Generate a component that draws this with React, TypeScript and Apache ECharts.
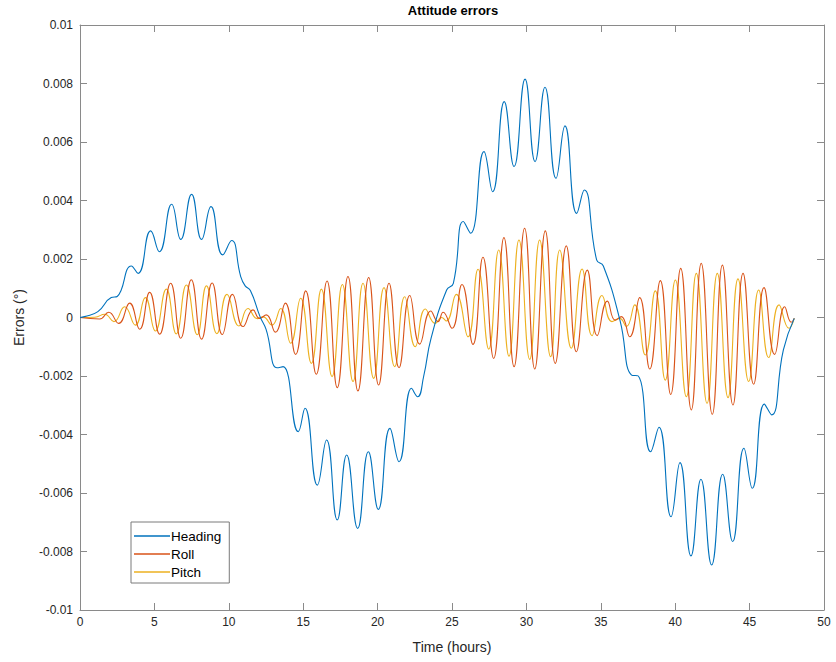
import React, { useEffect, useRef } from "react";
import * as echarts from "echarts";

const seriesNames = ["Heading", "Roll", "Pitch"];
const seriesColors = ["#0072BD", "#D95319", "#EDB120"];

const heading: [number, number][] = [
  [0, 0], [0.3, 0.00003], [1.2, 0.0002], [2.1, 0.00068], [2.5, 0.00072], [3.45, 0.00176], [3.9, 0.00151],
  [4.75, 0.00296], [5.33, 0.00225], [6.16, 0.00387], [6.77, 0.00267], [7.5, 0.00421], [8.17, 0.00267],
  [8.8, 0.00379], [9.59, 0.00214], [10.19, 0.00263], [10.8, 0.0014], [11.1, 0.00108], [11.45, 0.00092],
  [12.1, 0.00003], [12.5, -0.0004], [13.25, -0.00172], [13.65, -0.00168], [14.67, -0.0039], [15.12, -0.0031],
  [15.95, -0.00573], [16.57, -0.00419], [17.29, -0.00692], [17.92, -0.0047], [18.66, -0.00721], [19.38, -0.00459],
  [20.05, -0.00656], [20.83, -0.00379], [21.44, -0.00493], [22.28, -0.00242], [22.69, -0.00271], [23.1, -0.002],
  [23.6, -0.0007], [24.64, 0.00094], [25.09, 0.00117], [25.76, 0.00328], [26.25, 0.00288], [27.15, 0.00567],
  [27.73, 0.0043], [28.51, 0.00738], [29.17, 0.00516], [29.91, 0.00815], [30.58, 0.00533], [31.25, 0.00787],
  [31.99, 0.00476], [32.59, 0.00655], [33.38, 0.00356], [33.89, 0.00436], [34.72, 0.00197], [35.17, 0.00176],
  [36.29, -0.0001], [37.07, -0.00197], [37.52, -0.002], [38.35, -0.00459], [38.91, -0.00375], [39.72, -0.00681],
  [40.32, -0.00496], [41.06, -0.00815], [41.73, -0.00553], [42.45, -0.00846], [43.19, -0.00536], [43.86, -0.00766],
  [44.62, -0.00447], [45.18, -0.00584], [45.99, -0.00296], [46.48, -0.00333], [47.27, -0.00111], [48, -0.00003],
];

const roll: [number, number][] = [
  [0, 0], [1.32, -0.00005], [1.93, 0.00018], [2.6, -0.0002], [3.34, 0.00049], [4.01, -0.0004], [4.68, 0.00086],
  [5.35, -0.00057], [6.09, 0.00117], [6.77, -0.00071], [7.48, 0.00129], [8.17, -0.00074], [8.88, 0.00118],
  [9.56, -0.00058], [10.25, 0.00079], [10.96, -0.00031], [11.63, 0.00026], [12.07, -0.00003], [12.52, 0.00009],
  [13.13, -0.0005], [13.8, 0.00049], [14.49, -0.00126], [15.17, 0.00091], [15.88, -0.00194], [16.6, 0.00125],
  [17.29, -0.0024], [18.01, 0.0014], [18.68, -0.00251], [19.4, 0.00137], [20.07, -0.00231], [20.77, 0.00117],
  [21.44, -0.00172], [22.16, 0.00075], [22.83, -0.00091], [23.57, 0.00022], [24.06, -0.00014], [24.4, 0.00018],
  [25.0, -0.00037], [25.67, 0.00113], [26.41, -0.00092], [27.08, 0.00206], [27.8, -0.0014], [28.49, 0.00273],
  [29.17, -0.00168], [29.88, 0.00305], [30.56, -0.00176], [31.27, 0.00296], [31.94, -0.00157], [32.68, 0.00245],
  [33.36, -0.00117], [34.09, 0.00162], [34.76, -0.00062], [35.44, 0.00056], [35.97, -0.00009], [36.38, 0.00003],
  [36.94, -0.00066], [37.61, 0.00068], [38.29, -0.00176], [39.0, 0.00126], [39.7, -0.00263], [40.37, 0.00168],
  [41.08, -0.00316], [41.75, 0.00185], [42.49, -0.00331], [43.17, 0.00179], [43.88, -0.00299], [44.56, 0.00151],
  [45.27, -0.00228], [45.97, 0.00102], [46.68, -0.00126], [47.36, 0.00037], [47.8, -0.00016], [48, -0.00003],
];

const pitch: [number, number][] = [
  [0, 0], [1.0, 0.00001], [1.66, 0.00011], [2.28, -0.00014], [3.0, 0.00037], [3.72, -0.00026], [4.39, 0.00068],
  [5.06, -0.00046], [5.8, 0.00097], [6.47, -0.00056], [7.15, 0.00111], [7.88, -0.00059], [8.5, 0.00108],
  [9.2, -0.00055], [9.88, 0.00079], [10.68, -0.00029], [11.29, 0.00031], [11.92, -0.00004], [12.3, 0.00002],
  [12.9, -0.00026], [13.49, 0.00031], [14.16, -0.00088], [14.83, 0.00066], [15.55, -0.00157], [16.22, 0.00097],
  [16.94, -0.00202], [17.63, 0.00113], [18.35, -0.00219], [19.02, 0.00117], [19.74, -0.00208], [20.43, 0.00102],
  [21.15, -0.00168], [21.82, 0.00071], [22.53, -0.001], [23.21, 0.00029], [23.88, -0.0002], [24.3, 0.0],
  [24.62, -0.00012], [25.29, 0.00079], [26.08, -0.00066], [26.75, 0.00165], [27.47, -0.00108], [28.14, 0.00231],
  [28.83, -0.00132], [29.5, 0.00265], [30.22, -0.00143], [30.89, 0.00265], [31.63, -0.00134], [32.24, 0.00231],
  [33.02, -0.00105], [33.74, 0.00166], [34.41, -0.00062], [35.08, 0.00075], [35.75, -0.00014], [36.27, -0.00003],
  [36.72, -0.00031], [37.28, 0.00043], [37.99, -0.00128], [38.66, 0.00091], [39.33, -0.00214], [40.01, 0.00128],
  [40.75, -0.00271], [41.42, 0.00151], [42.14, -0.00293], [42.83, 0.00151], [43.55, -0.00274], [44.22, 0.00132],
  [44.94, -0.00219], [45.61, 0.00094], [46.28, -0.00137], [46.98, 0.00043], [47.65, -0.00037], [48, -0.00003],
];

const xRange = { min: 0, max: 50, interval: 5 };
const yRange = { min: -0.01, max: 0.01, interval: 0.002 };

const FONT = "'Liberation Sans', Arial, Helvetica, sans-serif";
const AXIS_COLOR = "#8a8a8a";
const TEXT_COLOR = "#262626";

export default function App() {
  const ref = useRef<HTMLDivElement>(null);
  useEffect(() => {
    if (!ref.current) return;
    const chart = echarts.init(ref.current, undefined, { renderer: "svg" });
    const axisLine = { show: true, onZero: false, lineStyle: { color: AXIS_COLOR, width: 1 } };
    const axisTick = { show: true, inside: true, length: 7, lineStyle: { color: AXIS_COLOR } };
    const fmtY = (v: number) => String(parseFloat(v.toFixed(4)));
    const data = [heading, roll, pitch];
    chart.setOption({
      animation: false,
      backgroundColor: "#ffffff",
      textStyle: { fontFamily: FONT },
      graphic: [
        {
          type: "text",
          x: 453,
          y: 4,
          style: {
            text: "Attitude errors",
            align: "center",
            fill: "#000",
            font: `bold 13px ${FONT}`,
          },
        },
      ],
      grid: { left: 80, right: 12, top: 25, bottom: 52, containLabel: false },
      legend: {
        orient: "vertical",
        left: 131,
        top: 522,
        data: seriesNames.map((n) => ({ name: n, icon: "rect" })),
        backgroundColor: "#fff",
        borderColor: "#7a7a7a",
        borderWidth: 1,
        borderRadius: 0,
        padding: [7, 8, 4, 3],
        itemGap: 4,
        itemWidth: 36,
        itemHeight: 1.3,
        textStyle: { fontFamily: FONT, fontSize: 13.5, color: "#000", lineHeight: 14, padding: [0, 0, 0, -4] },
      },
      xAxis: [
        {
          type: "value",
          ...xRange,
          position: "bottom",
          name: "Time (hours)",
          nameLocation: "middle",
          nameGap: 30,
          nameTextStyle: { fontFamily: FONT, fontSize: 14, color: TEXT_COLOR },
          axisLine,
          axisTick,
          splitLine: { show: false },
          axisLabel: { fontFamily: FONT, fontSize: 12, color: TEXT_COLOR, margin: 6 },
        },
        {
          type: "value",
          ...xRange,
          position: "top",
          axisLine,
          axisTick,
          splitLine: { show: false },
          axisLabel: { show: false },
        },
      ],
      yAxis: [
        {
          type: "value",
          ...yRange,
          position: "left",
          name: "Errors (°)",
          nameLocation: "middle",
          nameGap: 54,
          nameRotate: 90,
          nameTextStyle: { fontFamily: FONT, fontSize: 14, color: TEXT_COLOR },
          axisLine,
          axisTick,
          splitLine: { show: false },
          axisLabel: { fontFamily: FONT, fontSize: 12, color: TEXT_COLOR, margin: 7, formatter: fmtY },
        },
        {
          type: "value",
          ...yRange,
          position: "right",
          axisLine,
          axisTick,
          splitLine: { show: false },
          axisLabel: { show: false },
        },
      ],
      series: seriesNames.map((name, i) => ({
        name,
        type: "line",
        xAxisIndex: 0,
        yAxisIndex: 0,
        data: data[i],
        smooth: 0.5,
        showSymbol: false,
        symbol: "none",
        color: seriesColors[i],
        lineStyle: { color: seriesColors[i], width: 1.1 },
        z: 10 - i,
      })),
    });
    return () => chart.dispose();
  }, []);
  return <div ref={ref} style={{ width: 836, height: 662, position: "absolute", left: 0, top: 0 }} />;
}
